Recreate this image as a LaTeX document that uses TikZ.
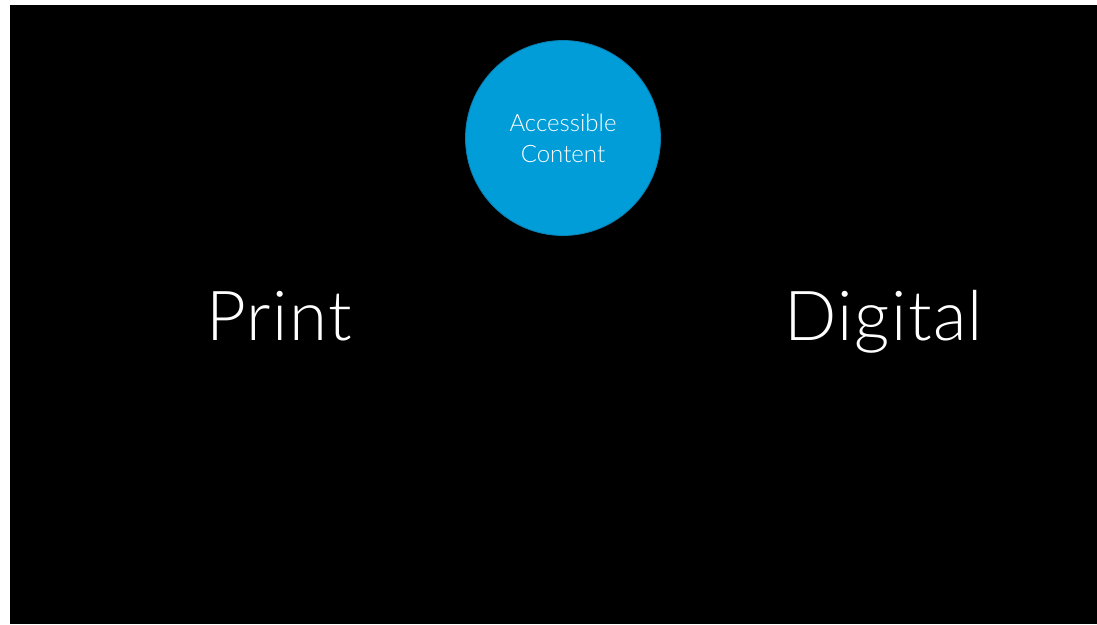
\documentclass[tikz,border=0pt]{standalone}
\usepackage{fontspec}
\setmainfont{Lato}[UprightFont=* Light]
\newfontfamily\bigfont{Lato}[UprightFont=* Light,LetterSpace=2]
\definecolor{circblue}{HTML}{009DD9}
\definecolor{circedge}{HTML}{0A7FB0}
\begin{document}
\begin{tikzpicture}[x=1pt,y=-1pt,
  bigword/.style={text=white,font=\bigfont\fontsize{69}{72}\selectfont,anchor=base,inner sep=0pt},
  bubble/.style={circle,fill=circblue,draw=circedge,line width=0.8pt,minimum size=195pt,inner sep=0pt,
    text=white,align=center,font=\fontsize{24}{31}\selectfont}]
\useasboundingbox (0,0) rectangle (1097,624);
\fill[white] (0,0) rectangle (1097,624);
\fill[black] (10,5) rectangle (1097,624);
\node[bubble] (ac) at (563,138) {Accessible\\Content};
\node[bigword] (print) at (279,340) {Print};
\node[bigword] (digital) at (884,340) {Digital};
\end{tikzpicture}
\end{document}
